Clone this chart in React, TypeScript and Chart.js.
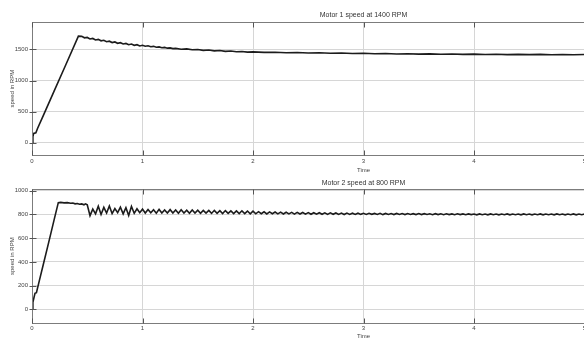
import React, { useEffect, useRef } from "react";
import { Chart, registerables } from "chart.js";

Chart.register(...registerables);

const FONT = "'Liberation Sans', Arial, sans-serif";

// ---- Data ----
const xTickLabels = ["0", "1", "2", "3", "4", "5", "6"];
const m1YTicks = [0, 500, 1000, 1500];
const m2YTicks = [0, 200, 400, 600, 800, 1000];

const motor1Title = "Motor 1 speed at 1400 RPM";
const motor2Title = "Motor 2 speed at 800 RPM";

const m1Times = [
  0, 0.008, 0.015, 0.035, 0.05, 0.1, 0.2, 0.3, 0.42,
  0.45, 0.475, 0.5, 0.525, 0.55, 0.575, 0.6, 0.625, 0.65, 0.675, 0.7, 0.725, 0.75, 0.775,
  0.8, 0.825, 0.85, 0.875, 0.9, 0.925, 0.95, 0.975, 1.0, 1.025, 1.05, 1.075, 1.1, 1.125,
  1.15, 1.175, 1.2, 1.225, 1.25, 1.275, 1.3,
  1.35, 1.4, 1.45, 1.5, 1.55, 1.6, 1.65, 1.7, 1.75, 1.8, 1.85, 1.9, 1.95, 2.0,
  2.1, 2.2, 2.3, 2.4, 2.5, 2.6, 2.7, 2.8, 2.9, 3.0, 3.1, 3.2, 3.3, 3.4, 3.5, 3.6, 3.7,
  3.8, 3.9, 4.0, 4.1, 4.2, 4.3, 4.4, 4.5, 4.6, 4.7, 4.8, 4.9, 5.0,
];
const m1Speeds = [
  0, 100, 150, 160, 230, 430, 830, 1230, 1713,
  1710, 1686, 1692, 1668, 1676, 1652, 1661, 1638, 1646, 1624, 1632, 1610, 1620, 1598,
  1608, 1587, 1596, 1576, 1586, 1566, 1576, 1556, 1566, 1550, 1558, 1543, 1549, 1535,
  1540, 1527, 1532, 1520, 1524, 1513, 1517,
  1502, 1508, 1494, 1499, 1485, 1490, 1477, 1482, 1469, 1474, 1462, 1467, 1456, 1461,
  1452, 1455, 1447, 1450, 1442, 1446, 1438, 1442, 1434, 1438, 1430, 1434, 1427, 1431,
  1424, 1428, 1422, 1426, 1420, 1424, 1418, 1422, 1417, 1421, 1416, 1420, 1415, 1419,
  1414, 1418,
];

const m2RampTimes = [
  0, 0.008, 0.027, 0.04, 0.066, 0.1, 0.15, 0.2, 0.238,
  0.26, 0.29, 0.32, 0.35, 0.37, 0.39, 0.41, 0.43, 0.45, 0.47, 0.485,
];
const m2RampSpeeds = [
  0, 60, 135, 140, 240, 370, 560, 754, 900,
  902, 898, 900, 895, 897, 890, 893, 886, 889, 882, 890,
];

// sampled every 0.025 s starting at t = 0.5
const m2OscStart = 0.5;
const m2OscStep = 0.025;
const m2OscSpeeds = [
  882, 790, 845, 805, 870, 800, 860, 812, 872, 808, 850, 815, 862, 805, 858, 792, 868, 810, 848, 815, 845,
  812, 842, 814, 840, 811, 843, 813, 839, 812, 841, 812, 838, 810, 840, 813, 837, 811, 838, 812, 836,
  810, 835, 811, 834, 809, 835, 810, 832, 808, 833, 809, 831, 808, 830, 807, 831, 808, 829, 806, 828,
  806, 824, 807, 823, 805, 822, 806, 821, 805, 820, 804, 819, 805, 818, 803, 818, 804, 817, 803, 816,
  802, 815, 803, 815, 802, 814, 801, 814, 802, 813, 801, 812, 800, 812, 801, 811, 800, 811, 801, 810,
  800, 810, 801, 809, 800, 810, 799, 809, 800, 808, 799, 809, 800, 808, 799, 808, 800, 807, 799, 808,
  799, 807, 800, 806, 798, 807, 799, 806, 798, 806, 799, 805, 798, 806, 799, 805, 798, 805, 799, 804,
  797, 805, 798, 804, 797, 805, 798, 804, 797, 804, 798, 805, 797, 804, 798, 804, 797, 805, 798, 804,
  797, 804, 798, 805, 797, 804, 798, 804, 797, 805, 798, 804, 797, 804, 798, 805, 797, 804, 798, 804,
];

// ---- Helpers ----
const framePlugin = {
  id: "frame",
  afterDraw(chart: any, _args: any, opts: any) {
    const { ctx, chartArea: a, scales } = chart;
    ctx.save();
    const L = Math.round(a.left) + 0.5;
    const T = Math.round(a.top) + 0.5;
    const R = Math.round(a.right) + 0.5;
    const B = Math.round(a.bottom) + 0.5;
    ctx.strokeStyle = "#7c7c7c";
    ctx.lineWidth = 1;
    ctx.strokeRect(L, T, R - L, B - T);
    ctx.strokeStyle = "#555";
    const xs = scales.x;
    xs.ticks.forEach((t: any) => {
      const px = Math.round(xs.getPixelForValue(t.value)) + 0.5;
      ctx.beginPath();
      ctx.moveTo(px, T);
      ctx.lineTo(px, T + 5);
      ctx.moveTo(px, B);
      ctx.lineTo(px, B - 5);
      ctx.stroke();
    });
    const ys = scales.y;
    ys.ticks.forEach((t: any) => {
      const py = Math.round(ys.getPixelForValue(t.value)) + 0.5;
      ctx.beginPath();
      ctx.moveTo(L - 3, py);
      ctx.lineTo(L + 4, py);
      ctx.stroke();
    });
    ctx.fillStyle = "#333";
    ctx.font = `7px ${FONT}`;
    ctx.textAlign = "center";
    ctx.textBaseline = "middle";
    ctx.fillText(opts.text, (a.left + a.right) / 2, opts.y);
    ctx.restore();
  },
};

function buildConfig(p: {
  points: { x: number; y: number }[];
  yMin: number;
  yMax: number;
  yTicks: number[];
  padTop: number;
  xHeight: number;
  xTickPad: number;
  timePadBottom: number;
  title: string;
  titleY: number;
}): any {
  return {
    type: "line",
    data: {
      datasets: [
        {
          data: p.points,
          borderColor: "#1c1c1c",
          borderWidth: 1.6,
          pointRadius: 0,
          tension: 0,
          fill: false,
        },
      ],
    },
    options: {
      animation: false,
      responsive: false,
      devicePixelRatio: 1,
      layout: { padding: { top: p.padTop, right: 5, left: 0, bottom: 0 } },
      plugins: {
        legend: { display: false },
        tooltip: { enabled: false },
        frame: { text: p.title, y: p.titleY },
      },
      scales: {
        x: {
          type: "linear",
          min: 0,
          max: 6,
          afterBuildTicks: (s: any) => {
            s.ticks = xTickLabels.map((l) => ({ value: Number(l) }));
          },
          afterFit: (s: any) => {
            s.height = p.xHeight;
          },
          grid: { color: "#d6d6d6", lineWidth: 1, drawTicks: false },
          border: { display: false },
          ticks: {
            padding: p.xTickPad,
            maxRotation: 0,
            autoSkip: false,
            font: { size: 6, family: FONT },
            color: "#444",
            callback: (v: any) => String(v),
          },
          title: {
            display: true,
            text: "Time",
            font: { size: 6, family: FONT },
            color: "#444",
            padding: { top: 0, bottom: p.timePadBottom },
          },
        },
        y: {
          type: "linear",
          min: p.yMin,
          max: p.yMax,
          afterBuildTicks: (s: any) => {
            s.ticks = p.yTicks.map((v) => ({ value: v }));
          },
          afterFit: (s: any) => {
            s.width = 32;
          },
          grid: { color: "#d6d6d6", lineWidth: 1, drawTicks: false },
          border: { display: false },
          ticks: {
            padding: 4,
            font: { size: 6, family: FONT },
            color: "#444",
            callback: (v: any) => String(v),
          },
          title: {
            display: true,
            text: "speed in RPM",
            font: { size: 6, family: FONT },
            color: "#444",
            padding: { top: 9, bottom: 0 },
          },
        },
      },
    },
    plugins: [framePlugin],
  };
}

export default function App() {
  const topRef = useRef<HTMLCanvasElement>(null);
  const botRef = useRef<HTMLCanvasElement>(null);

  useEffect(() => {
    document.body.style.margin = "0";
    const m1Points = m1Times.map((t, i) => ({ x: t, y: m1Speeds[i] }));
    const m2Points = [
      ...m2RampTimes.map((t, i) => ({ x: t, y: m2RampSpeeds[i] })),
      ...m2OscSpeeds.map((v, i) => ({ x: m2OscStart + i * m2OscStep, y: v })),
    ];
    const c1 = new Chart(
      topRef.current as HTMLCanvasElement,
      buildConfig({
        points: m1Points,
        yMin: -200,
        yMax: 1940,
        yTicks: m1YTicks,
        padTop: 22,
        xHeight: 20.7,
        xTickPad: 2,
        timePadBottom: 2.4,
        title: motor1Title,
        titleY: 15.5,
      })
    );
    const c2 = new Chart(
      botRef.current as HTMLCanvasElement,
      buildConfig({
        points: m2Points,
        yMin: -118,
        yMax: 1015,
        yTicks: m2YTicks,
        padTop: 13,
        xHeight: 16.7,
        xTickPad: 1,
        timePadBottom: 0.4,
        title: motor2Title,
        titleY: 7,
      })
    );
    return () => {
      c1.destroy();
      c2.destroy();
    };
  }, []);

  return (
    <div
      style={{
        position: "relative",
        width: 584,
        height: 340,
        overflow: "hidden",
        background: "#fff",
      }}
    >
      <canvas
        ref={topRef}
        width={700}
        height={176}
        style={{ position: "absolute", left: 0, top: 0, width: 700, height: 176 }}
      />
      <canvas
        ref={botRef}
        width={700}
        height={164}
        style={{ position: "absolute", left: 0, top: 176, width: 700, height: 164 }}
      />
    </div>
  );
}
